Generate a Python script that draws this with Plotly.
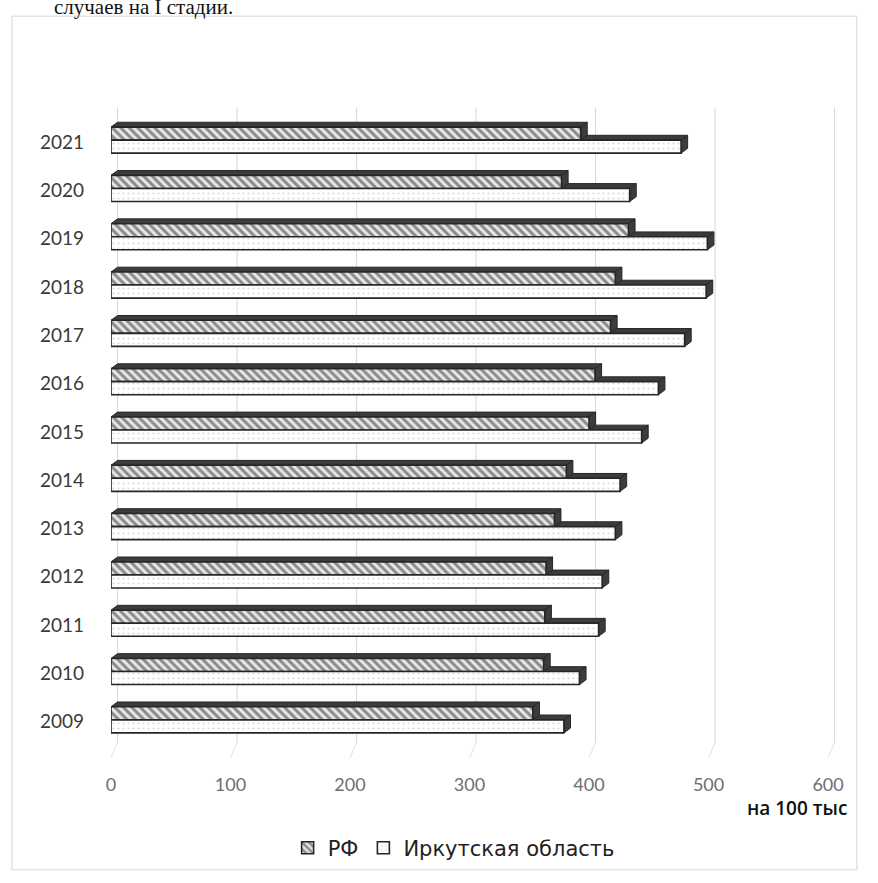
import plotly.graph_objects as go

# Incidence per 100 thousand population, 2009–2021
years = [2009, 2010, 2011, 2012, 2013, 2014, 2015, 2016, 2017, 2018, 2019, 2020, 2021]
rf_values = [353, 362, 363, 364, 371, 381, 400, 405, 418, 422, 433, 377, 393]
irk_values = [379, 392, 408, 411, 422, 426, 444, 458, 480, 498, 499, 434, 477]
x_ticks = [0, 100, 200, 300, 400, 500, 600]
series_names = ["РФ", "Иркутская область"]

pos = list(range(len(years)))

# pseudo-3D depth of the bars (x in data units, y in category units)
DX, DY = 5.5, 0.10
W = 0.27
IRK_OFF, RF_OFF = -0.23, 0.04
FACE = "#3c3c3c"
EDGE = "#262626"
FLOOR = 0.024  # back edge of the floor, in plot-area fraction

fig = go.Figure()

fig.add_trace(go.Bar(
    name=series_names[0], orientation="h", y=pos, x=rf_values,
    width=W, offset=RF_OFF,
    marker=dict(color="white", line=dict(color=EDGE, width=1.6),
                pattern=dict(shape="\\", fgcolor="#2e2e2e", bgcolor="#e8e8e8",
                             size=6, solidity=0.5)),
))
fig.add_trace(go.Bar(
    name=series_names[1], orientation="h", y=pos, x=irk_values,
    width=W, offset=IRK_OFF,
    marker=dict(color="white", line=dict(color=EDGE, width=1.6),
                pattern=dict(shape=".", fgcolor="#b5b5b5", bgcolor="white",
                             size=5, solidity=0.15)),
))

shapes = []

# back-wall gridlines and floor edges
for t in x_ticks:
    shapes.append(dict(type="line", xref="x", yref="paper",
                       x0=t + DX, x1=t + DX, y0=FLOOR, y1=0.99,
                       line=dict(color="#d6d6d6", width=1), layer="below"))
    shapes.append(dict(type="line", xref="x", yref="paper",
                       x0=t + DX, x1=t, y0=FLOOR, y1=0,
                       line=dict(color="#e2e2e2", width=1), layer="below"))


def box_faces(p, v, off):
    lo, hi = p + off, p + off + W
    top = f"M0,{hi} L{v},{hi} L{v + DX},{hi + DY} L{DX},{hi + DY} Z"
    side = f"M{v},{lo} L{v},{hi} L{v + DX},{hi + DY} L{v + DX},{lo + DY} Z"
    return [
        dict(type="path", path=top, xref="x", yref="y", layer="between",
             fillcolor=FACE, line=dict(color=EDGE, width=1)),
        dict(type="path", path=side, xref="x", yref="y", layer="between",
             fillcolor=FACE, line=dict(color=EDGE, width=1)),
    ]


for p, r, k in zip(pos, rf_values, irk_values):
    shapes += box_faces(p, k, IRK_OFF)
    shapes += box_faces(p, r, RF_OFF)

# outer chart frame
shapes.append(dict(type="rect", xref="paper", yref="paper",
                   x0=-0.136, x1=1.023, y0=-0.170, y1=1.129,
                   line=dict(color="#e3e3e3", width=1.5), layer="below"))

fig.update_layout(
    width=878, height=883,
    margin=dict(l=111, r=38, t=101, b=125),
    paper_bgcolor="white", plot_bgcolor="white",
    barmode="overlay",
    showlegend=True,
    legend=dict(orientation="h", x=0.47, xanchor="center", y=-0.106, yanchor="top",
                bgcolor="rgba(0,0,0,0)",
                font=dict(family="DejaVu Sans, sans-serif", size=21, color="#222"),
                itemwidth=30, traceorder="normal"),
    xaxis=dict(range=[0, 610], tickvals=x_ticks, showgrid=False, zeroline=False,
               showline=False, ticks="", ticklabelstandoff=14,
               tickfont=dict(family="Lato, Open Sans, sans-serif", size=18, color="#6e6e6e")),
    yaxis=dict(range=[-0.75, 12.85], tickvals=pos, ticktext=[str(y) for y in years],
               showgrid=False, zeroline=False, showline=False, ticks="",
               ticklabelstandoff=26,
               tickfont=dict(family="Lato, Open Sans, sans-serif", size=19, color="#3a3a3a")),
    shapes=shapes,
    annotations=[
        dict(text="на 100 тыс", xref="paper", yref="paper", x=1.013, y=-0.076,
             xanchor="right", yanchor="middle", showarrow=False,
             font=dict(family="Open Sans, sans-serif", size=19, color="#111", weight=600)),
        dict(text="случаев на I стадии.", xref="paper", yref="paper",
             x=0.170, y=1.122, xanchor="right", yanchor="bottom", showarrow=False,
             font=dict(family="Liberation Serif, serif", size=21, color="#111")),
    ],
)

fig.write_html("out.html")
